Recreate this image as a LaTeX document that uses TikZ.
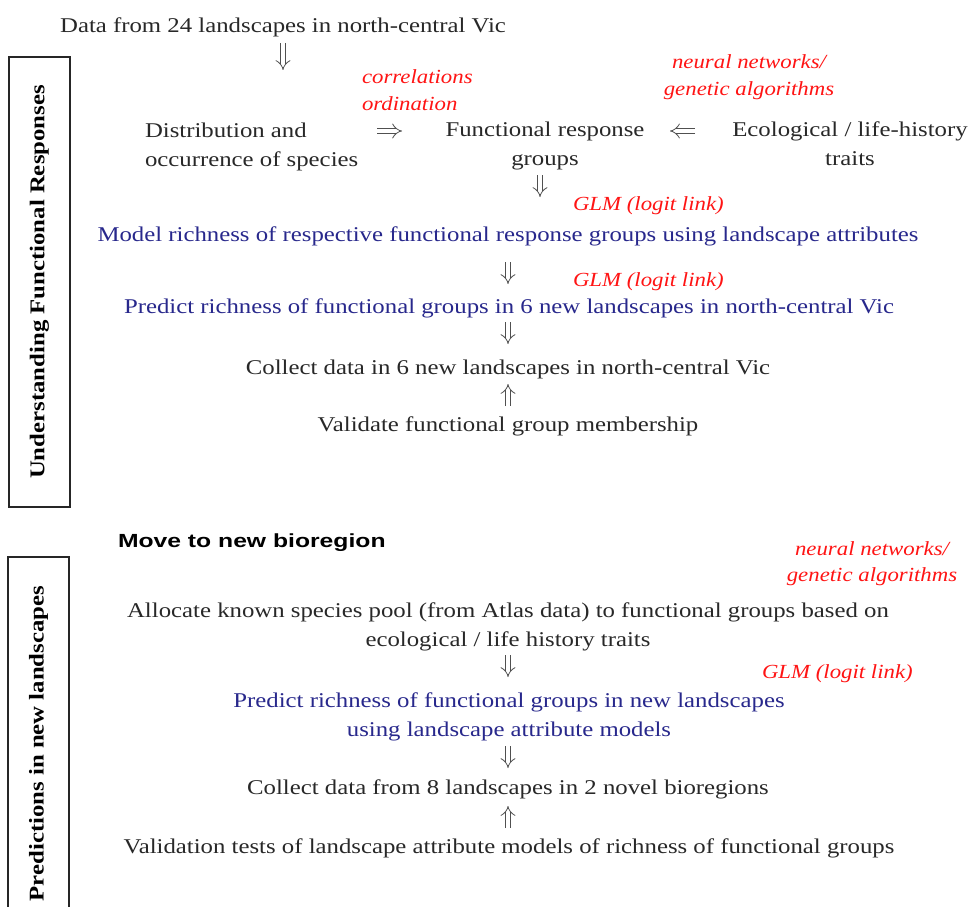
\documentclass[tikz,border=0pt]{standalone}
\usepackage{fontspec}
\setmainfont{Liberation Serif}[FakeStretch=1.18]
\newfontfamily\redfam{Liberation Serif}[FakeStretch=1.14]
\newfontfamily\movefam{Liberation Sans}[FakeStretch=1.3]
\usetikzlibrary{arrows.meta}
\definecolor{txt}{RGB}{40,40,40}
\definecolor{navy}{RGB}{40,40,140}
\definecolor{redt}{RGB}{255,20,20}
\definecolor{arrc}{RGB}{80,80,80}
\begin{document}
\begin{tikzpicture}[x=1pt,y=-1pt,
 every node/.style={inner sep=0pt, outer sep=0pt},
 txtnode/.style={font=\fontsize{21}{29}\selectfont, text=txt, anchor=base, align=center},
 bluenode/.style={txtnode, text=navy},
 rednote/.style={font=\redfam\itshape\fontsize{20}{26}\selectfont, text=redt, anchor=base, align=center},
 dar/.style={draw=arrc, line width=0.8pt, double=white, double distance=4.5pt, -{Implies}},
 sidebox/.style={draw=black!85, line width=1.2pt, rotate=90, font=\bfseries\fontsize{21}{25}\selectfont, text=black}
]
\useasboundingbox[fill=white] (0,0) rectangle (974,907);

% side boxes
\node[sidebox, minimum width=450pt, minimum height=61pt] (box1) at (39.5,282) {Understanding Functional Responses};
\node[sidebox, minimum width=373pt, minimum height=61pt] (box2) at (38.5,743.5) {Predictions in new landscapes};

% upper part
\node[txtnode] (data) at (283,33) {Data from 24 landscapes in north-central Vic};
\node[txtnode, align=left, anchor=base west] (dist) at (145,166) {Distribution and\\occurrence of species};
\node[txtnode] (frg) at (545,165) {Functional response\\groups};
\node[txtnode] (eco) at (850,165) {Ecological / life-history\\traits};
\node[rednote, align=left, anchor=base west] (corr) at (362,110) {correlations\\ordination};
\node[rednote] (nn1) at (749,95) {neural networks/\\genetic algorithms};
\node[rednote, anchor=base west] (glm1) at (573,210) {GLM (logit link)};
\node[bluenode] (model) at (508,241) {Model richness of respective functional response groups using landscape attributes};
\node[rednote, anchor=base west] (glm2) at (573,286) {GLM (logit link)};
\node[bluenode] (pred) at (509,313) {Predict richness of functional groups in 6 new landscapes in north-central Vic};
\node[txtnode] (coll) at (508,374) {Collect data in 6 new landscapes in north-central Vic};
\node[txtnode] (val) at (508,431) {Validate functional group membership};

% lower part
\node[font=\movefam\bfseries\fontsize{19}{22}\selectfont, anchor=base west, text=black] (move) at (118,547) {Move to new bioregion};
\node[rednote] (nn2) at (872,581) {neural networks/\\genetic algorithms};
\node[txtnode] (alloc) at (508,646) {Allocate known species pool (from Atlas data) to functional groups based on\\ecological / life history traits};
\node[rednote, anchor=base west] (glm3) at (762,678) {GLM (logit link)};
\node[bluenode] (pred2) at (509,736) {Predict richness of functional groups in new landscapes\\using landscape attribute models};
\node[txtnode] (coll2) at (508,794) {Collect data from 8 landscapes in 2 novel bioregions};
\node[txtnode] (valt) at (509,853) {Validation tests of landscape attribute models of richness of functional groups};

% arrow end points
\coordinate (a1s) at (283,43);  \coordinate (a1e) at (283,70);
\coordinate (a2s) at (377,131); \coordinate (a2e) at (402,131);
\coordinate (a3s) at (695,131); \coordinate (a3e) at (670,131);
\coordinate (a4s) at (540,175); \coordinate (a4e) at (540,197);
\coordinate (a5s) at (508,262); \coordinate (a5e) at (508,284);
\coordinate (a6s) at (508,322); \coordinate (a6e) at (508,344);
\coordinate (a7s) at (508,406); \coordinate (a7e) at (508,384);
\coordinate (a8s) at (508,655); \coordinate (a8e) at (508,677);
\coordinate (a9s) at (508,746); \coordinate (a9e) at (508,768);
\coordinate (a10s) at (508,828); \coordinate (a10e) at (508,806);
\foreach \i in {1,...,10} {\draw[dar] (a\i s) -- (a\i e);}
\end{tikzpicture}
\end{document}
